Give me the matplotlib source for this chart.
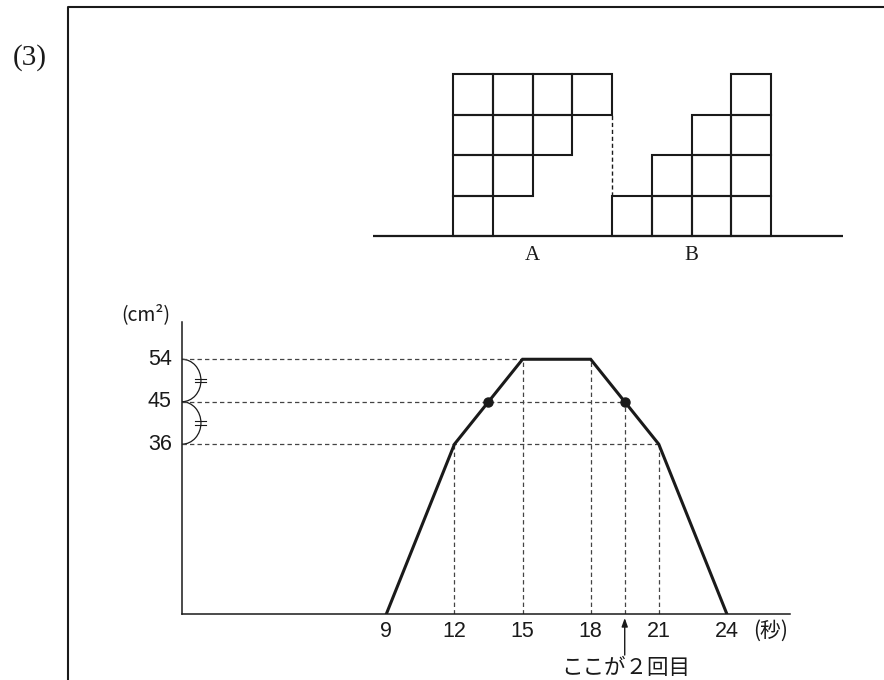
import matplotlib
matplotlib.use('Agg')
import matplotlib.pyplot as plt
from matplotlib.patches import Arc, Rectangle

plt.rcParams['font.family'] = ['Noto Sans CJK JP', 'DejaVu Sans']

# ---------------- data ----------------
# graph: area (cm^2) against time (s)
t_points = [9, 12, 15, 18, 21, 24]
area_points = [0, 36, 54, 54, 36, 0]
x_ticks = [9, 12, 15, 18, 21, 24]
y_ticks = [36, 45, 54]
dot_t = [13.5, 19.5]
dot_area = [45, 45]
arrow_t = 19.5
x_unit = '(秒)'
y_unit = '(cm²)'
note = 'ここが２回目'
part_label = '(3)'

# block figure: number of cells in each row (bottom to top)
A_rows = [1, 2, 3, 4]   # aligned to the left of A
B_rows = [4, 3, 2, 1]   # aligned to the right of B
block_width = 4
block_names = ['A', 'B']

# ---------------- figure ----------------
W, H = 884, 680
fig = plt.figure(figsize=(W / 100, H / 100), dpi=100)
fig.patch.set_facecolor('white')


def box(left, top, right, bottom):
    return [left / W, 1 - bottom / H, (right - left) / W, (bottom - top) / H]


INK = '#1a1a1a'
NUMFONT = ['Liberation Sans', 'DejaVu Sans']

# frame
frame = fig.add_axes([0, 0, 1, 1])
frame.set_xlim(0, W)
frame.set_ylim(H, 0)
frame.axis('off')
frame.plot([68, 68, W], [H, 7, 7], color=INK, lw=1.5, solid_capstyle='butt')
frame.text(30, 58, part_label, fontsize=21, family=['Liberation Serif'],
           ha='center', va='center', color=INK)

# ---------------- block figure ----------------
bx = fig.add_axes(box(373, 61.85, 843, 276.5))
bx.set_xlim(-2.013, 9.81)
bx.set_ylim(-1, 4.3)
bx.axis('off')
cell_lw = 1.5
for r, n in enumerate(A_rows):
    for c in range(n):
        bx.add_patch(Rectangle((c, r), 1, 1, fill=False, ec=INK, lw=cell_lw))
for r, n in enumerate(B_rows):
    for c in range(block_width - n, block_width):
        bx.add_patch(Rectangle((block_width + c, r), 1, 1, fill=False,
                               ec=INK, lw=cell_lw))
# dashed boundary between A's overhang and B's first column
a_last_col_bottom = min(r for r, n in enumerate(A_rows) if n >= block_width)
b_first_col_top = sum(1 for n in B_rows if n >= block_width)
bx.plot([block_width, block_width], [b_first_col_top, a_last_col_bottom],
        color=INK, lw=1.0, ls=(0, (3, 2)))
bx.axhline(0, color=INK, lw=1.6)
for i, name in enumerate(block_names):
    bx.text(block_width * i + block_width / 2, -0.47, name, fontsize=15,
            family=['Liberation Serif'], ha='center', va='center', color=INK)

# ---------------- graph ----------------
ax = fig.add_axes(box(182, 322, 790, 614))
ax.set_xlim(0, 26.78)
ax.set_ylim(0, 61.9)
for s in ['top', 'right']:
    ax.spines[s].set_visible(False)
for s in ['left', 'bottom']:
    ax.spines[s].set_color(INK)
    ax.spines[s].set_linewidth(1.1)
ax.set_xticks([])
ax.set_yticks([])
ax.patch.set_alpha(0)

dash = dict(color='#444444', lw=0.9, ls=(0, (3.5, 2.5)))
arrow_area = dot_area[dot_t.index(arrow_t)]
# horizontal guides
for v in y_ticks:
    if v == arrow_area:
        end = arrow_t
    else:
        hits = [t for t, a in zip(t_points, area_points) if a == v]
        end = hits[0] if v == max(area_points) else hits[-1]
    ax.plot([0, end], [v, v], **dash)
# vertical guides at break points and at the marked point
for t, a in zip(t_points + [arrow_t], area_points + [arrow_area]):
    if a in y_ticks:
        ax.plot([t, t], [0, a], **dash)

ax.plot(t_points, area_points, color=INK, lw=2.2, solid_joinstyle='miter')
ax.plot(dot_t, dot_area, 'o', color=INK, ms=6.5)

# equal-interval arcs with tick marks
for lo, hi in zip(y_ticks[:-1], y_ticks[1:]):
    mid = (lo + hi) / 2
    ax.add_patch(Arc((0, mid), 2 * 0.835, hi - lo, theta1=-90, theta2=90,
                     color=INK, lw=0.9, clip_on=False))
    for d in (-0.42, 0.42):
        ax.plot([0.57, 1.06], [mid + d, mid + d], color=INK, lw=0.8)

# labels
for v in y_ticks:
    ax.text(-0.45, v, str(v), fontsize=15.5, family=NUMFONT, ha='right',
            va='center', color=INK, clip_on=False)
for t in x_ticks:
    ax.text(t, -3.75, str(t), fontsize=15.5, family=NUMFONT, ha='center',
            va='center', color=INK, clip_on=False)
ax.text(25.15, -3.6, x_unit, fontsize=15, ha='left', va='center',
        color=INK, clip_on=False)
ax.text(-0.5, 63.4, y_unit, fontsize=14, ha='right', va='center',
        color=INK, clip_on=False)

ax.annotate('', xy=(arrow_t, -0.85), xytext=(arrow_t, -8.7),
            arrowprops=dict(arrowstyle='-|>,head_length=0.5,head_width=0.18',
                            color=INK, lw=1.0, shrinkA=0, shrinkB=0),
            annotation_clip=False)
ax.text(arrow_t + 0.05, -11.45, note, fontsize=15.5, ha='center', va='center',
        color=INK, clip_on=False)

fig.savefig('out.png', dpi=100, facecolor='white')
